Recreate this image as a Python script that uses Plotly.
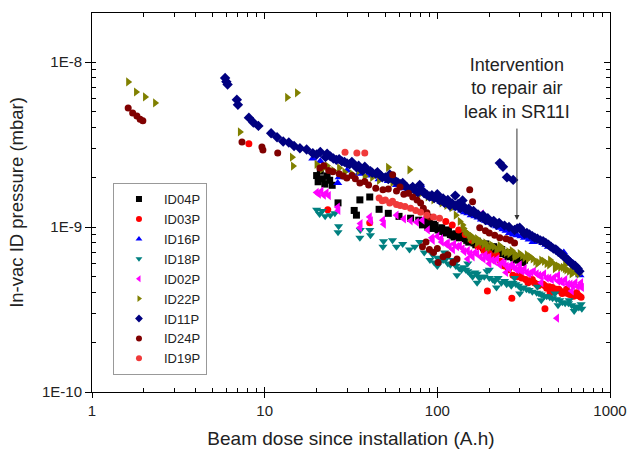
import plotly.graph_objects as go

# ---- data: (beam dose A.h, pressure in units of 1E-10 mbar) ----
ID04P = [(20.0,20.5),(20.4,18.8),(21.0,21.8),(21.6,19.6),(22.3,18.2),(23.0,20.4),(23.8,19.2),(24.6,17.9),
         (26.6,14.0),(33.0,12.6),(34.0,11.8),(35.6,14.6),(40.6,15.2),(46,12.8),(52,12.1),(60,11.6),(70,11.3),
         (78,11.0),(82,10.3),(86,10.9),(90,10.6),(93,9.8),(97,10.2),(101,9.6),(106,9.9),(110,9.2),(116,9.5),
         (122,8.9),(128,9.1),(134,8.6),(141,8.8),(148,8.3),(155,8.5),(163,8.0),(171,8.2),(180,7.7),(190,7.9),
         (200,7.4),(212,7.6),(224,7.1),(236,7.3),(250,6.8),(262,7.0),(276,6.5),(290,6.6),(305,6.2),(320,6.3),
         (88,10.0),(95,10.4),(104,9.4),(113,9.6),(119,9.0),(125,8.7),(137,8.9),(145,8.5),(152,8.1),(167,7.8),
         (176,7.9),(185,7.5),(195,7.6),(206,7.2),(218,7.3),(230,6.9),(242,6.9),(256,6.6),(268,6.7),(283,6.3),
         (298,6.4),(312,6.1)]
ID03P = [(8.1,32),(23.2,12.7),(40.6,10.6),(112,10.8),(122,10.3),(133,9.6),(145,9.0),(158,8.3),(172,7.6),
         (186,7.2),(195,4.1),(200,6.9),(212,6.6),(220,6.8),(232,6.2),(245,5.8),(258,5.5),(270,3.7),(274,5.1),
         (290,5.0),(308,4.9),(325,4.8),(345,4.7),(365,4.6),(376,4.5),(395,4.5),(420,3.2),(420,4.4),(445,4.35),
         (465,4.3),(490,4.2),(515,4.1),(540,4.0),(570,3.95),(600,3.9),(630,3.85),(668,3.8),(300,5.3),(450,4.0),
         (560,4.2),(640,4.0),(480,4.1),(505,4.2),(528,3.95),(555,4.0),(585,3.9),(615,3.8),(650,3.9),(680,3.75),
         (335,4.6),(355,4.8),(385,4.4),(410,4.5),(430,4.25)]
ID16P = [(19,26),(21,25),(26.5,18.5),(27,20),(30,22),(35,21),(40,20.5),(46,19.5),(52,19),(58,18),(64,17.2),
         (72,16.5),(80,18),(80,16.8),(88,15.5),(96,14.8),(105,14.2),(115,13.6),(125,13),(138,12.6),(150,12.1),
         (165,11.6),(180,11.1),(200,10.6),(220,10.1),(240,9.7),(262,9.2),(290,8.9),(320,8.6),(358,8.1),(380,8.3),
         (408,8.0),(440,7.6),(470,7.4),(494,7.3),(530,6.8),(560,6.5),(600,6.1),(630,5.8),(670,5.1),(660,5.5),
         (540,7.0),(575,6.4),(615,6.0),(645,5.6),(510,7.0),(455,7.7),(425,7.8),(395,8.2),(340,8.4),(305,8.8),
         (275,9.0),(250,9.5),(230,9.9),(210,10.4),(190,10.9),(172,11.4),(157,11.8),(144,12.3)]
ID18P = [(20.0,12.7),(20.8,12.0),(21.5,12.5),(22.4,11.6),(24.0,11.8),(25.5,12.1),(26.6,9.3),(26.8,10.1),
         (35.6,8.6),(35.8,9.6),(40.6,9.6),(41,8.9),(48.4,7.6),(48.8,8.2),(55,8.3),(58,7.6),(63,7.9),(69,7.3),
         (74,7.6),(79,8.1),(84,7.0),(90.6,6.3),(94,6.8),(100,6.5),(108,6.3),(115,6.0),(123,6.3),(128,5.8),
         (134,5.6),(142,5.7),(150,5.4),(160,5.0),(170,5.2),(180,5.0),(194,5.4),(209,4.8),(225,4.9),(245,4.7),
         (260,4.6),(274,4.58),(295,4.4),(315,4.3),(340,4.15),(376,4.0),(400,3.9),(430,3.8),(465,3.7),(512,3.6),
         (550,3.45),(600,3.35),(640,3.28),(687,3.2),(100,5.8),(130,5.1),(170,4.6),(220,4.3),(300,3.95),(400,3.6),
         (500,3.35),(620,3.1),(110,7.0),(150,6.0),(200,5.5),(280,4.9),(380,4.35),(480,3.95),(580,3.6),(680,3.4),
         (96,6.1),(104,6.2),(112,6.4),(119,5.9),(126,6.0),(138,5.5),(146,5.5),(155,5.2),(165,5.3),(175,4.9),
         (187,5.0),(200,4.9),(215,4.7),(235,4.6),(252,4.5),(268,4.4),(285,4.5),(305,4.25),(328,4.2),(355,4.05),
         (388,3.95),(415,3.8),(448,3.75),(490,3.65),(530,3.5),(575,3.45),(620,3.3),(660,3.25)]
ID02P = [(20.0,16.2),(20.6,15.8),(21.3,16.5),(22.0,15.6),(22.8,16.1),(23.5,15.5),(26.5,13.2),(26.7,12.6),
         (35.6,9.9),(35.9,10.5),(40.6,11.5),(41.2,10.9),(48.4,11.0),(49,10.4),(58,11.8),(64,11.2),(70,10.9),
         (76,10.7),(82,11.0),(88,9.6),(93,8.6),(94,8.3),(100,8.8),(106,8.1),(112,7.9),(118,7.6),(123,7.3),
         (130,7.6),(135,7.7),(143,7.1),(150,7.2),(160,6.6),(170,6.9),(181,12.0),(185,6.4),(194,6.5),(200,6.0),
         (215,6.2),(230,5.9),(245,6.0),(260,5.6),(274,5.73),(290,5.5),(310,5.4),(330,5.3),(350,5.3),(376,5.2),
         (400,5.0),(430,4.9),(460,4.8),(493,2.8),(500,4.7),(533,4.6),(570,4.5),(610,4.4),(650,4.35),(687,4.3),
         (150,6.4),(200,6.6),(250,5.3),(300,5.9),(400,4.6),(500,5.1),(600,4.1),(680,4.6),
         (105,8.5),(115,8.0),(125,7.9),(140,7.4),(155,6.9),(165,7.0),(178,6.6),(190,6.8),(208,6.3),(222,6.4),
         (238,6.1),(252,5.8),(268,5.9),(282,5.6),(300,5.5),(320,5.6),(340,5.2),(362,5.4),(388,5.1),(415,5.2),
         (445,4.9),(475,4.95),(515,4.7),(550,4.8),(590,4.5),(630,4.6),(670,4.4)]
ID22P = [(1.62,75.7),(1.80,65.8),(2.03,61.4),(2.32,56.5),(7.19,37.7),(13.5,61),(15.4,65),(14.4,26.5),
         (14.6,23.4),(20,24),(21.5,22.5),(23,23.5),(25,22),(27,22.8),(29,21.5),(32,21),(35,21.8),(38,20.3),
         (42,20),(46,19.2),(51.9,23),(55,18.6),(60,18),(69,22.2),(72,16.8),(80,16),(88,15.2),(95,14.6),
         (99.6,15.6),(106,14),(113,13.5),(121,13.1),(128,11.8),(135,10.8),(142,9.8),(148,9.2),(154,8.6),
         (162,8.3),(170,8.0),(180,8.1),(194,7.6),(205,7.8),(220,7.3),(235,7.5),(250,7.0),(270,7.2),(290,6.7),
         (300,6.9),(320,6.5),(345,6.6),(370,6.2),(400,6.3),(430,6.0),(460,6.1),(500,5.8),(534,5.7),(560,5.5),
         (600,5.5),(645,5.3),
         (140,10.3),(145,9.4),(152,9.0),(158,8.8),(165,8.4),(175,8.2),(185,7.8),(190,8.0),(200,7.5),(212,7.6),
         (228,7.4),(242,7.1),(258,7.1),(262,6.9),(280,6.9),(310,6.7),(335,6.4),(357,6.4),(385,6.1),(415,6.2),
         (445,5.9),(480,5.9),(515,5.7),(548,5.6),(580,5.4),(620,5.35),(660,5.2),(170,8.5),(230,7.7),(330,6.8),
         (450,6.3),(550,5.9),(620,5.6),(280,6.6),(380,6.0),(480,5.6),(600,5.2)]
ID11P = [(5.9,80),(6.0,76),(6.1,73),(6.9,59),(7.0,55),(8.1,46),(8.6,43),(9.2,41),(10.9,37),(11.8,35),
         (12.8,33),(13.8,32.5),(14.8,31),(16,30),(17.5,29.5),(19,28),(20,27.5),(21,28.5),(22.5,26.5),(24,26.8),
         (26,25.5),(28,25),(30,24.3),(32,24.8),(34,23),(36,22.5),(38,23.2),(41,21.8),(44,21),(47,20.5),(50,20),
         (53,20.8),(57,19),(61,18.2),(65,17.8),(70,17),(75,16.5),(79,18),(84,16),(90,15.3),(96,15),(103,14.5),
         (110,14),(118,13.5),(127,13.4),(127,15.5),(136,13),(140,14.5),(146,12.8),(156,12.3),(166,12),(178,11.5),
         (190,11),(205,10.6),(220,10.3),(230,24.4),(240,23.2),(253,20),(275,19.3),(290,9.8),(310,9.5),(330,9.2),
         (355,8.8),(380,8.5),(410,8.2),(440,7.8),(470,7.4),(500,7.1),(535,6.7),(570,6.3),(610,5.9),(650,5.6),
         (100,15.8),(108,14.9),(115,14.6),(122,13.9),(132,13.8),(142,13.3),(152,12.9),(162,12.5),(172,11.9),
         (184,11.8),(196,11.3),(212,10.9),(228,10.6),(245,10.2),(260,10.0),(280,9.6),(300,9.9),(320,9.1),
         (342,9.0),(367,8.6),(395,8.3),(425,8.0),(455,7.6),(485,7.3),(518,6.9),(552,6.5),(590,6.1),(630,5.8),
         (665,5.4),(23,27.8),(25,26),(27,25.8),(29,24.8),(31,24),(33,23.8),(35,23.5),(37,22),(39,22.3),(42,21.3),
         (45,21.5),(48,20),(52,19.5),(55,19.6),(59,18.6),(63,18.5),(67,17.3),(72,17.5),(77,16.2),(82,16.6),
         (87,15.7),(93,15.6)]
ID24P = [(1.62,52.6),(1.72,49),(1.82,47),(1.9,45),(1.97,44),(7.39,32.7),(9.64,30.5),(9.77,29.3),(11.9,28.1),
         (20.9,22.8),(22,23.5),(23.5,22.0),(24.8,21.6),(27,21),(28.5,20.4),(29.9,19.8),(32,20.5),(33.5,19.6),
         (35.6,18.5),(38,18.9),(40,18),(44,17.2),(48.4,16.8),(52,17.0),(55.1,20.7),(58,16.5),(60.8,17.5),
         (64,15.8),(68,16),(72,15.2),(76.3,14.6),(80,14.0),(83,13),(87,12.2),(90.6,11.5),(82,7.6),(86,8.1),
         (90,7.3),(95,7.0),(100,7.4),(101,6.1),(108,6.6),(115,6.8),(123,6.1),(130,6.4),(154,16.8),(160,14.2),
         (176,9.9),(190,9.5),(200,9.2),(215,8.9),(230,8.6),(250,8.5),(265,8.3),(280,8.0)]
ID19P = [(29.2,28.4),(34.2,28.1),(38,28.1),(46,15),(48,14.4),(50,14.6),(53,14.0),(55,14.3),(58,13.7),
         (61,13.5),(65,13.3),(70,13.0),(75,12.6),(80,12.3),(87,11.8),(95,11.5),(103,11.3)]

SERIES_NAMES = ["ID04P", "ID03P", "ID16P", "ID18P", "ID02P", "ID22P", "ID11P", "ID24P", "ID19P"]
SERIES_DATA = [ID04P, ID03P, ID16P, ID18P, ID02P, ID22P, ID11P, ID24P, ID19P]
SYMBOLS = ["square", "circle", "triangle-up", "triangle-down", "triangle-left", "triangle-right",
           "diamond", "circle", "circle"]
COLORS = ["#000000", "#ff0000", "#0000ff", "#008080", "#ff00ff", "#808000", "#000080", "#800000", "#f03a3a"]
SIZES = [7, 7, 8, 8, 8, 8, 8, 7, 7]

X_TICKS = [1, 10, 100, 1000]
X_TICK_LABELS = ["1", "10", "100", "1000"]
X_MINOR = [m * d for d in (1, 10, 100) for m in range(2, 10)]
Y_TICKS = [1e-10, 1e-9, 1e-8]
Y_TICK_LABELS = ["1E-10", "1E-9", "1E-8"]
Y_MINOR = [m * d for d in (1e-10, 1e-9) for m in range(2, 10)]

FONT = "Arial, 'Liberation Sans', sans-serif"

fig = go.Figure()
for name, pts, sym, col, sz in zip(SERIES_NAMES, SERIES_DATA, SYMBOLS, COLORS, SIZES):
    fig.add_trace(go.Scatter(
        x=[p[0] for p in pts], y=[p[1] * 1e-10 for p in pts], mode="markers", name=name,
        legendgroup=name, showlegend=False,
        marker=dict(symbol=sym, color=col, size=sz, line=dict(width=0))))
# legend entries with small symbols (as in the reference legend)
for name, sym, col in zip(SERIES_NAMES, SYMBOLS, COLORS):
    fig.add_trace(go.Scatter(x=[None], y=[None], mode="markers", name=name, legendgroup=name,
                             marker=dict(symbol=sym, color=col, size=6, line=dict(width=0))))

# invisible traces to activate the overlay (mirror) axes
fig.add_trace(go.Scatter(x=[10], y=[1e-9], xaxis="x2", yaxis="y2", mode="markers",
                         marker=dict(opacity=0), showlegend=False, hoverinfo="skip"))
fig.add_trace(go.Scatter(x=[10], y=[1e-9], xaxis="x3", yaxis="y3", mode="markers",
                         marker=dict(opacity=0), showlegend=False, hoverinfo="skip"))

XR = [0, 3]
YR = [-10, -7.703]
common_x = dict(type="log", range=XR, tickvals=X_TICKS, showgrid=False, zeroline=False, automargin=False)
common_y = dict(type="log", range=YR, tickvals=Y_TICKS, showgrid=False, zeroline=False, automargin=False)

fig.update_layout(
    width=628, height=449,
    margin=dict(l=92, r=18, t=13, b=57),
    paper_bgcolor="white", plot_bgcolor="white",
    font=dict(family=FONT, color="#222222"),
    xaxis=dict(**common_x, ticktext=X_TICK_LABELS, ticks="outside", ticklen=5, tickcolor="black",
               showline=True, linecolor="black", linewidth=1,
               minor=dict(tickvals=X_MINOR, ticks="inside", ticklen=4, tickcolor="black", showgrid=False),
               tickfont=dict(size=15, color="#222222"),
               title=dict(text="Beam dose since installation (A.h)", font=dict(size=19, color="#222222"),
                          standoff=15)),
    xaxis2=dict(**common_x, overlaying="x", side="top", anchor="y", showticklabels=False,
                ticks="inside", ticklen=6, tickcolor="black", showline=True, linecolor="black",
                minor=dict(tickvals=X_MINOR, ticks="inside", ticklen=4, tickcolor="black", showgrid=False)),
    xaxis3=dict(**common_x, overlaying="x", side="bottom", anchor="y", showticklabels=False,
                ticks="inside", ticklen=5, tickcolor="black", showline=False),
    yaxis=dict(**common_y, ticktext=Y_TICK_LABELS, ticks="outside", ticklen=6, tickcolor="black",
               showline=True, linecolor="black", linewidth=1,
               minor=dict(tickvals=Y_MINOR, ticks="inside", ticklen=4, tickcolor="black", showgrid=False),
               tickfont=dict(size=15, color="#222222"),
               title=dict(text="In-vac ID pressure (mbar)", font=dict(size=18.5, color="#222222"),
                          standoff=13)),
    yaxis2=dict(**common_y, overlaying="y", side="right", anchor="x", showticklabels=False,
                ticks="inside", ticklen=6, tickcolor="black", showline=True, linecolor="black",
                minor=dict(tickvals=Y_MINOR, ticks="inside", ticklen=4, tickcolor="black", showgrid=False)),
    yaxis3=dict(**common_y, overlaying="y", side="left", anchor="x", showticklabels=False,
                ticks="inside", ticklen=4, tickcolor="black", showline=False),
    legend=dict(x=0.0405, y=0.551, xanchor="left", yanchor="top", bgcolor="white",
                bordercolor="#999999", borderwidth=1, font=dict(size=13, color="#222222"),
                tracegroupgap=0, itemwidth=40),
    showlegend=True,
)

fig.add_annotation(text="Intervention<br>to repair air<br>leak in SR11I", xref="paper", yref="paper",
                   x=0.8205, y=0.801, xanchor="center", yanchor="middle", showarrow=False,
                   font=dict(size=18, color="#222222", family=FONT))
fig.add_annotation(x=2.461, y=-8.958, xref="x", yref="y", text="", showarrow=True, ax=0, ay=-93,
                   arrowhead=2, arrowsize=1, arrowwidth=1, arrowcolor="#333333")

fig.write_html("out.html", config={"displayModeBar": False},
               post_script="document.body.style.margin='0px';document.body.style.overflow='hidden';")
